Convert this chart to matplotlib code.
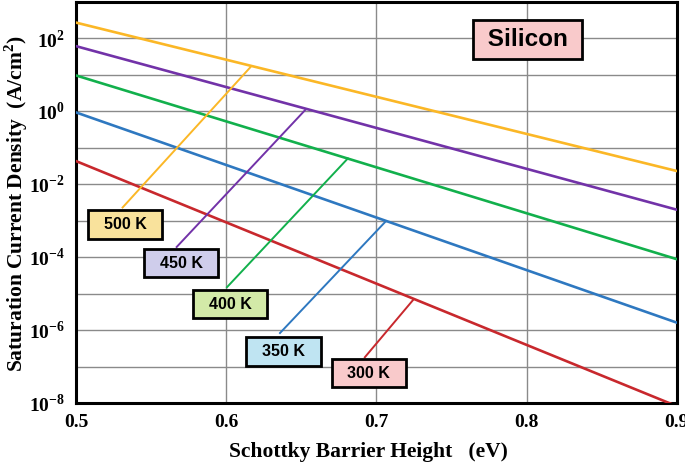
import numpy as np
import matplotlib
matplotlib.use("Agg")
import matplotlib.pyplot as plt

plt.rcParams['mathtext.fontset'] = 'custom'
plt.rcParams['mathtext.rm'] = 'Liberation Serif:bold'
plt.rcParams['mathtext.bf'] = 'Liberation Serif:bold'

# barrier height range (eV) and current density at both ends (A/cm^2)
phi_ends = [0.5, 0.9]
temps = ['300 K', '350 K', '400 K', '450 K', '500 K']
j_start = [4.3e-2, 9.3e-1, 9.6e0, 6.1e1, 2.7e2]
j_end = [8.2e-9, 1.6e-6, 8.8e-5, 2.0e-3, 2.3e-2]
colors = ['#c8282d', '#2e78c0', '#12b04c', '#7232a8', '#fbb726']
box_colors = ['#f9cacb', '#bfe4f2', '#d3eaa8', '#cfcdeb', '#f9e29c']

# leader lines: (x_top, y_top) on curve -> (x_bottom, y_bottom) near box
lead_top_x = [0.7243, 0.7057, 0.681, 0.653, 0.616]
lead_top_y = [6.6e-6, 9.1e-4, 5.1e-2, 1.13, 1.6e1]
lead_bot_x = [0.6923, 0.6358, 0.6005, 0.567, 0.531]
lead_bot_y = [1.8e-7, 8.3e-7, 1.5e-5, 1.9e-4, 2.3e-3]
box_x = [0.695, 0.638, 0.6025, 0.570, 0.5326]
box_y = [6.6e-8, 2.6e-7, 5.1e-6, 6.9e-5, 7.8e-4]

fig = plt.figure(figsize=(6.85, 4.67), dpi=100)
ax = fig.add_axes([0.111, 0.137, 0.877, 0.859])

for i in range(len(temps)):
    ax.plot(phi_ends, [j_start[i], j_end[i]], color=colors[i], lw=1.9, zorder=3)
    ax.plot([lead_bot_x[i], lead_top_x[i]], [lead_bot_y[i], lead_top_y[i]],
            color=colors[i], lw=1.4, zorder=3)
    ax.text(box_x[i], box_y[i], '  ' + temps[i] + '  ', ha='center', va='center',
            fontsize=11.5, fontweight='bold', family='Liberation Sans', zorder=5,
            bbox=dict(boxstyle='square,pad=0.42', fc=box_colors[i], ec='black', lw=2))

ax.text(0.8005, 9.3e1, ' Silicon ', ha='center', va='center', fontsize=17.5,
        fontweight='bold', family='Liberation Sans', zorder=5,
        bbox=dict(boxstyle='square,pad=0.32', fc='#f9cacb', ec='black', lw=2))

ax.set_yscale('log')
ax.set_xlim(0.5, 0.9)
ax.set_ylim(1e-8, 1e3)
ax.set_xticks([0.5, 0.6, 0.7, 0.8, 0.9])
ax.set_xticklabels(['0.5', '0.6', '0.7', '0.8', '0.9'])
decades = list(range(-8, 3))
ax.set_yticks([10.0 ** d for d in decades])
ax.set_yticklabels([r'$10^{%d}$' % d if d % 2 == 0 else '' for d in decades])
ax.minorticks_off()
ax.tick_params(length=0, labelsize=14, pad=8)
for lab in ax.get_xticklabels():
    lab.set_family('Liberation Serif')
    lab.set_fontweight('bold')
ax.grid(True, color='#8a8a8a', lw=1.0, zorder=1)
for s in ax.spines.values():
    s.set_linewidth(2.2)
    s.set_color('black')

ax.set_xlabel('Schottky Barrier Height   (eV)', fontsize=15.5, fontweight='bold',
              family='Liberation Serif', va='center')
ax.xaxis.set_label_coords(0.486, -0.1225)
ax.set_ylabel(r'Saturation Current Density  (A/cm$^{2}$)', fontsize=15.5,
              fontweight='bold', family='Liberation Serif', va='center')
ax.yaxis.set_label_coords(-0.1, 0.4975)

fig.savefig('out.png', dpi=100)
